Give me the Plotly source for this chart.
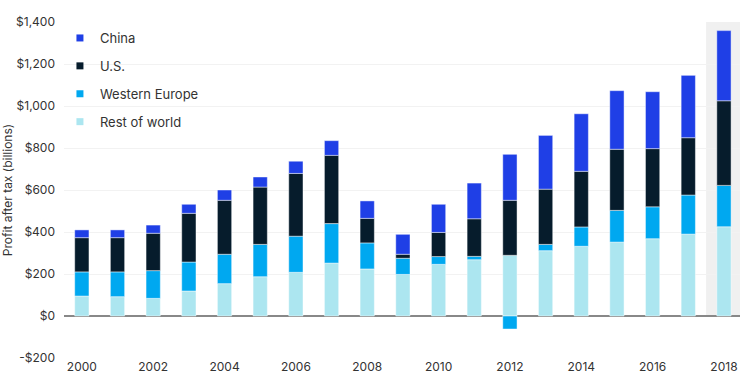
import plotly.graph_objects as go

years = list(range(2000, 2019))
rest_of_world = [95, 92, 84, 119, 154, 187, 208, 252, 224, 198, 246, 268, 289, 311, 332, 352, 368, 390, 425]
western_europe = [115, 118, 132, 138, 140, 154, 172, 188, 124, 77, 37, 16, -62, 30, 92, 151, 152, 186, 197]
us = [163, 163, 178, 232, 257, 273, 299, 325, 117, 19, 115, 179, 262, 263, 265, 291, 277, 273, 403]
china = [37, 37, 39, 43, 49, 48, 58, 70, 83, 95, 134, 170, 219, 256, 274, 279, 271, 297, 334]

y_ticks = [-200, 0, 200, 400, 600, 800, 1000, 1200, 1400]
y_tick_text = ["-$200", "$0", "$200", "$400", "$600", "$800", "$1,000", "$1,200", "$1,400"]
x_ticks = list(range(2000, 2019, 2))

series = [
    ("Rest of world", rest_of_world, "#ace6f0"),
    ("Western Europe", western_europe, "#00a8f0"),
    ("U.S.", us, "#061c2c"),
    ("China", china, "#1f3fe6"),
]

FONT = "Inter, Roboto, sans-serif"
fig = go.Figure()
for name, vals, col in series:
    fig.add_trace(go.Bar(
        x=years, y=vals, name=name, marker_color=col,
        marker_line=dict(color="rgba(255,255,255,0.45)", width=1),
        showlegend=False,
    ))
for name, vals, col in reversed(series):
    fig.add_trace(go.Scatter(
        x=[None], y=[None], mode="markers", name=name,
        marker=dict(symbol="square", size=7, color=col),
        legendgroup=name, showlegend=True,
    ))

fig.add_shape(type="rect", xref="x", yref="y", x0=2017.5, x1=2019.2, y0=0, y1=1400,
              fillcolor="#f0f0f0", line_width=0, layer="below")

fig.update_layout(
    width=740, height=389,
    margin=dict(l=64, r=0, t=22, b=31),
    barmode="relative", bargap=0.6,
    plot_bgcolor="white", paper_bgcolor="white",
    font=dict(family=FONT, size=12, color="#333333"),
    legend=dict(x=-0.006, xanchor="left", y=0.997, yanchor="top",
                bgcolor="rgba(0,0,0,0)", font=dict(size=13, color="#333333"),
                tracegroupgap=8),
    xaxis=dict(range=[1999.5, 2018.45], tickvals=x_ticks, ticktext=[str(v) for v in x_ticks],
               showgrid=False, zeroline=False, showline=False, ticks="", automargin=False,
               tickfont=dict(size=12, color="#333333")),
    yaxis=dict(range=[-200, 1400], tickvals=y_ticks, ticktext=y_tick_text,
               showgrid=True, gridcolor="#f2f2f2", gridwidth=1,
               zeroline=True, zerolinecolor="#888888", zerolinewidth=1.5,
               ticks="", ticklabelstandoff=8, automargin=False,
               tickfont=dict(size=12, color="#333333"),
               title=dict(text="Profit after tax (billions)", standoff=2,
                          font=dict(size=12, color="#333333"))),
)

fig.write_html("out.html", config={"displayModeBar": False},
               post_script="document.body.style.margin='0';document.body.style.padding='0';")
